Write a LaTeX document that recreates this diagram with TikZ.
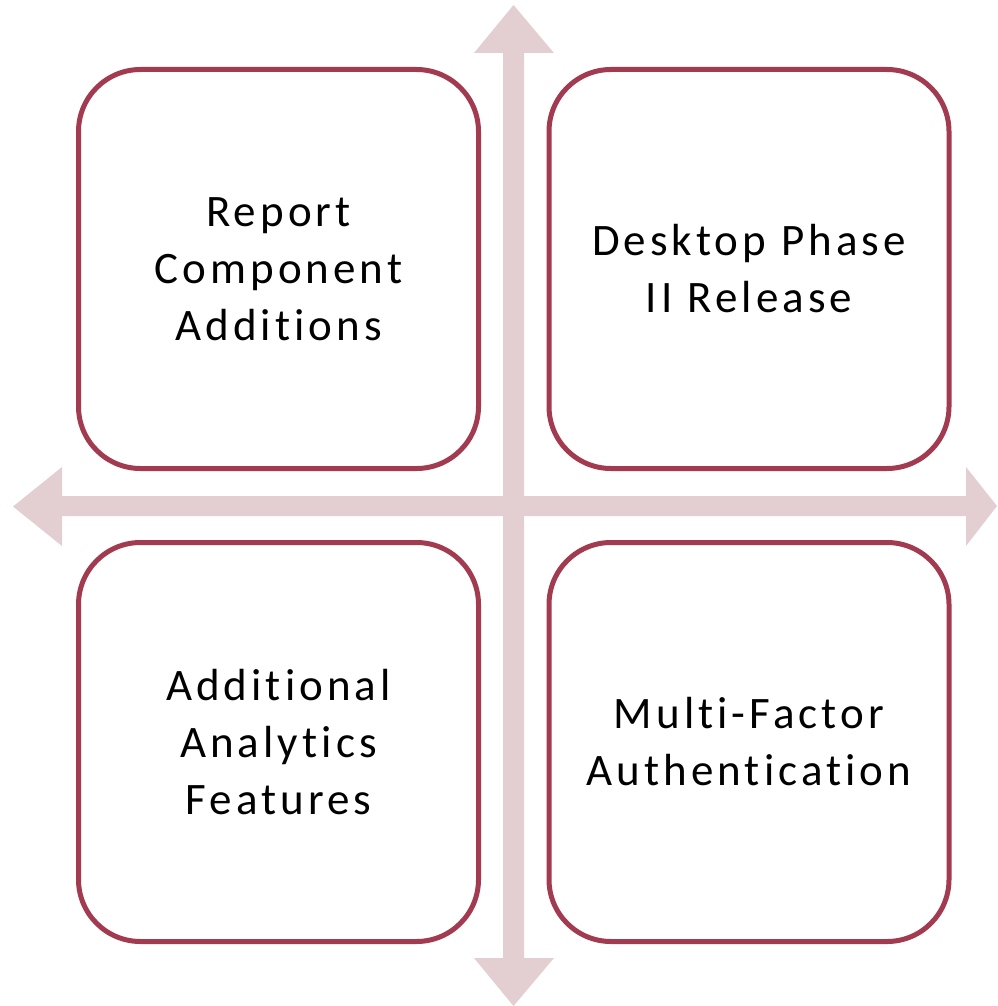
\documentclass[tikz,border=0pt]{standalone}
\usepackage{fontspec}
\setmainfont{Carlito}[LetterSpace=9, Ligatures={NoCommon, NoRare, NoContextual}]
\definecolor{boxline}{HTML}{A23B50}
\definecolor{arrowfill}{HTML}{E3CFD1}
\begin{document}
\begin{tikzpicture}[x=1pt,y=-1pt,
  quad/.style={draw=boxline, line width=5pt, rounded corners=62pt, fill=white,
    minimum width=400pt, minimum height=399pt, align=center, inner sep=0pt,
    font=\fontsize{45}{57}\selectfont, text width=380pt}]
\useasboundingbox (0,0) rectangle (997,1006);
% cross arrows
\fill[arrowfill] (503,53) -- (474,53) -- (513.5,5) -- (554,53) -- (524,53)
  -- (524,496) -- (966,496) -- (966,467) -- (997,506) -- (966,546) -- (966,516)
  -- (524,516) -- (524,958) -- (554,958) -- (513.5,1006) -- (474,958) -- (503,958)
  -- (503,516) -- (62,516) -- (62,546) -- (13,506.5) -- (62,467) -- (62,496)
  -- (503,496) -- cycle;
\node[quad] (tl) at (278.5,269) {Report\\Component\\Additions};
\node[quad] (tr) at (749,269) {Desktop Phase\\II Release};
\node[quad] (bl) at (278.5,742) {Additional\\Analytics\\Features};
\node[quad] (br) at (749,742) {Multi-Factor\\Authentication};
\end{tikzpicture}
\end{document}
